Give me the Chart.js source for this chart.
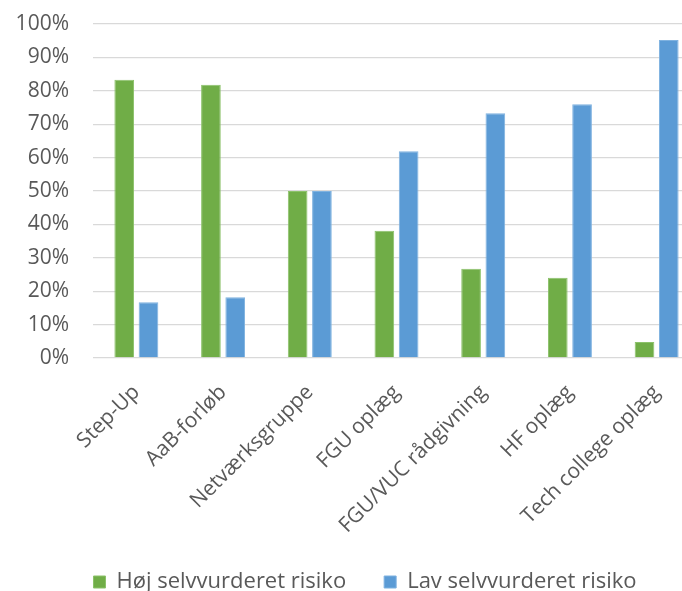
<!DOCTYPE html>
<html>
<head>
<meta charset="utf-8">
<script src="https://cdn.jsdelivr.net/npm/chart.js@4/dist/chart.umd.min.js"></script>
<style>
  html, body { margin: 0; padding: 0; background: #ffffff; overflow: hidden; width: 682px; height: 591px; }
  #wrap { position: absolute; left: 0; top: 0; width: 730px; height: 603px; }
</style>
</head>
<body>
<div id="wrap"><canvas id="chart" width="730" height="603"></canvas></div>
<script>
// Categories (activities) and share of respondents per self-rated risk group
const categories = ['Step-Up', 'AaB-forløb', 'Netværksgruppe', 'FGU oplæg', 'FGU/VUC rådgivning', 'HF oplæg', 'Tech college oplæg'];
const hojRisiko = [83.3, 81.8, 50.0, 38.1, 26.7, 24.0, 4.8];
const lavRisiko = [16.7, 18.2, 50.0, 61.9, 73.3, 76.0, 95.2];
const seriesNames = ['Høj selvvurderet risiko', 'Lav selvvurderet risiko'];
const yTicks = [0, 10, 20, 30, 40, 50, 60, 70, 80, 90, 100];

const textColor = '#595959';
const gridColor = '#d9d9d9';
const fontFamily = '"Open Sans", "Noto Sans", sans-serif';

new Chart(document.getElementById('chart'), {
  type: 'bar',
  data: {
    labels: categories,
    datasets: [
      {
        label: seriesNames[0],
        data: hojRisiko,
        backgroundColor: '#70ad47',
        borderColor: '#8cc26a',
        borderWidth: 1,
        categoryPercentage: 0.56,
        barPercentage: 0.81
      },
      {
        label: seriesNames[1],
        data: lavRisiko,
        backgroundColor: '#5b9bd5',
        borderColor: '#7fb2e0',
        borderWidth: 1,
        categoryPercentage: 0.56,
        barPercentage: 0.81
      }
    ]
  },
  options: {
    responsive: false,
    animation: false,
    devicePixelRatio: 1,
    layout: { padding: { top: 24, right: 0, bottom: 0, left: 0 } },
    plugins: {
      tooltip: { enabled: false },
      legend: {
        position: 'bottom',
        labels: {
          color: textColor,
          font: { family: fontFamily, size: 22 },
          boxWidth: 12,
          boxHeight: 12,
          padding: 38
        }
      }
    },
    scales: {
      x: {
        grid: { display: false, drawTicks: false },
        border: { display: false },
        ticks: {
          color: textColor,
          font: { family: fontFamily, size: 21 },
          minRotation: 45,
          maxRotation: 45,
          autoSkip: false,
          padding: 22
        },
        afterFit: (scale) => { scale.height = 175; }
      },
      y: {
        min: 0,
        max: 100,
        afterBuildTicks: (scale) => { scale.ticks = yTicks.map(v => ({ value: v })); },
        grid: { color: gridColor, lineWidth: 1.3, drawTicks: false },
        border: { display: false },
        ticks: {
          color: textColor,
          font: { family: fontFamily, size: 21 },
          padding: 24,
          callback: (v) => v + '%'
        },
        afterFit: (scale) => {
          scale.width = 93;
          scale.paddingTop = 0;
          scale.paddingBottom = 0;
        }
      },
      // empty margin on the right of the plot area
      yMargin: {
        position: 'right',
        min: 0,
        max: 100,
        grid: { display: false, drawTicks: false },
        border: { display: false },
        ticks: { display: false },
        afterFit: (scale) => {
          scale.width = 30;
          scale.paddingTop = 0;
          scale.paddingBottom = 0;
        }
      }
    }
  }
});
</script>
</body>
</html>
